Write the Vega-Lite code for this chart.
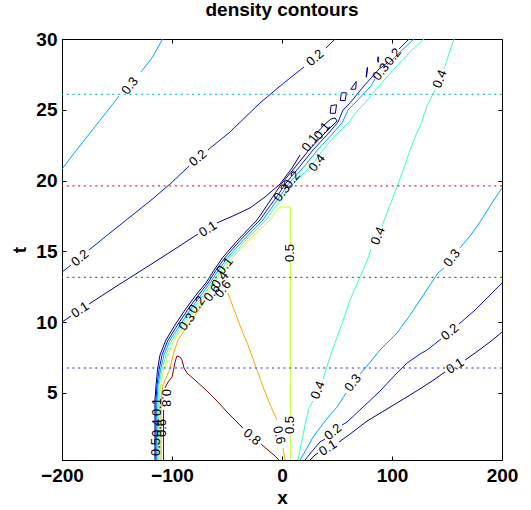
{
"$schema":"https://vega.github.io/schema/vega-lite/v6.json",
"width":440,"height":421,
"autosize":{"type":"none"},
"padding":{"left":62,"top":39,"right":29,"bottom":50},
"title":{"text":"density contours","fontSize":19,"fontWeight":"bold","font":"Liberation Sans","offset":10,"color":"#000000","anchor":"middle","frame":"group"},
"config":{
 "view":{"stroke":"#000000","strokeWidth":1},
 "axis":{"grid":false,"domainColor":"#000000","tickColor":"#000000","labelColor":"#000000","titleColor":"#000000","labelFont":"Liberation Sans","titleFont":"Liberation Sans","labelFontSize":19,"labelFontWeight":"bold","titleFontSize":19,"titleFontWeight":"bold","tickSize":-4,"labelFlush":false,"labelOverlap":false,"domainWidth":1,"tickWidth":1}
},
"resolve":{"axis":{"x":"independent","y":"independent"},"scale":{"color":"independent"}},
"datasets":{
"contours":[
{"seg":"L3a","level":0.3,"x":-200,"t":20.81},{"seg":"L3a","level":0.3,"x":-188.2,"t":22.01},{"seg":"L3a","level":0.3,"x":-174.5,"t":23.36},{"seg":"L3a","level":0.3,"x":-160.9,"t":24.7},{"seg":"L3a","level":0.3,"x":-148.2,"t":25.97},
{"seg":"L3b","level":0.3,"x":-128.2,"t":27.67},{"seg":"L3b","level":0.3,"x":-118.2,"t":28.66},{"seg":"L3b","level":0.3,"x":-108.5,"t":30},
{"seg":"L2a","level":0.2,"x":-200,"t":13.53},{"seg":"L2a","level":0.2,"x":-191.8,"t":14.03},
{"seg":"L2b","level":0.2,"x":-175.5,"t":15.09},{"seg":"L2b","level":0.2,"x":-156.4,"t":16.29},{"seg":"L2b","level":0.2,"x":-138.2,"t":17.42},{"seg":"L2b","level":0.2,"x":-120,"t":18.55},{"seg":"L2b","level":0.2,"x":-101.8,"t":19.75},{"seg":"L2b","level":0.2,"x":-84.5,"t":21.02},
{"seg":"L2c","level":0.2,"x":-67.3,"t":22.16},{"seg":"L2c","level":0.2,"x":-47.3,"t":23.43},{"seg":"L2c","level":0.2,"x":-20,"t":25.48},{"seg":"L2c","level":0.2,"x":2.7,"t":26.96},{"seg":"L2c","level":0.2,"x":20,"t":28.02},
{"seg":"L2d","level":0.2,"x":40,"t":29.36},{"seg":"L2d","level":0.2,"x":48.2,"t":30},
{"seg":"L1a","level":0.1,"x":-200,"t":10.0},{"seg":"L1a","level":0.1,"x":-191.8,"t":10.42},
{"seg":"L1b","level":0.1,"x":-175.5,"t":11.27},{"seg":"L1b","level":0.1,"x":-147.3,"t":12.69},{"seg":"L1b","level":0.1,"x":-120,"t":14.03},{"seg":"L1b","level":0.1,"x":-97.3,"t":15.16},{"seg":"L1b","level":0.1,"x":-76.4,"t":16.22},
{"seg":"L1c","level":0.1,"x":-59.1,"t":17.0},{"seg":"L1c","level":0.1,"x":-42.7,"t":17.56},{"seg":"L1c","level":0.1,"x":-29.1,"t":18.06},{"seg":"L1c","level":0.1,"x":-15.5,"t":18.83},{"seg":"L1c","level":0.1,"x":-1.8,"t":19.75},{"seg":"L1c","level":0.1,"x":9.1,"t":20.88},{"seg":"L1c","level":0.1,"x":16.4,"t":21.8},
{"seg":"B1","level":0.1,"x":30.9,"t":23.29},{"seg":"B1","level":0.1,"x":38.2,"t":23.92},{"seg":"B1","level":0.1,"x":44.5,"t":24.35},{"seg":"B1","level":0.1,"x":48.2,"t":24.42},{"seg":"B1","level":0.1,"x":50,"t":24.21},{"seg":"B1","level":0.1,"x":47.3,"t":23.99},{"seg":"B1","level":0.1,"x":37.3,"t":23.22},{"seg":"B1","level":0.1,"x":24.5,"t":22.16},{"seg":"B1","level":0.1,"x":13.6,"t":21.1},{"seg":"B1","level":0.1,"x":0,"t":19.82},{"seg":"B1","level":0.1,"x":-7.3,"t":18.98},{"seg":"B1","level":0.1,"x":-16.4,"t":17.92},{"seg":"B1","level":0.1,"x":-22.7,"t":17.21},{"seg":"B1","level":0.1,"x":-40,"t":15.8},{"seg":"B1","level":0.1,"x":-53.6,"t":14.59},{"seg":"B1","level":0.1,"x":-61.8,"t":13.67},{"seg":"B1","level":0.1,"x":-69.1,"t":12.76},{"seg":"B1","level":0.1,"x":-78.2,"t":11.91},{"seg":"B1","level":0.1,"x":-88.2,"t":10.85},{"seg":"B1","level":0.1,"x":-97.3,"t":9.79},{"seg":"B1","level":0.1,"x":-105.5,"t":8.73},{"seg":"B1","level":0.1,"x":-110.9,"t":7.67},{"seg":"B1","level":0.1,"x":-113.2,"t":6.61},{"seg":"B1","level":0.1,"x":-114.5,"t":5.55},{"seg":"B1","level":0.1,"x":-115.5,"t":4.49},{"seg":"B1","level":0.1,"x":-115.5,"t":3.07},{"seg":"B1","level":0.1,"x":-115.5,"t":0.25},
{"seg":"I1","level":0.1,"x":43.8,"t":24.75},{"seg":"I1","level":0.1,"x":44.6,"t":25.3},{"seg":"I1","level":0.1,"x":49.6,"t":25.35},{"seg":"I1","level":0.1,"x":48.5,"t":24.75},{"seg":"I1","level":0.1,"x":43.8,"t":24.75},
{"seg":"I2","level":0.1,"x":53,"t":25.65},{"seg":"I2","level":0.1,"x":54,"t":26.2},{"seg":"I2","level":0.1,"x":58.5,"t":26.2},{"seg":"I2","level":0.1,"x":57.5,"t":25.65},{"seg":"I2","level":0.1,"x":53,"t":25.65},
{"seg":"I3","level":0.1,"x":62.5,"t":26.45},{"seg":"I3","level":0.1,"x":67.5,"t":27.0},{"seg":"I3","level":0.1,"x":67,"t":26.45},{"seg":"I3","level":0.1,"x":62.5,"t":26.45},
{"seg":"I4","level":0.1,"x":76.5,"t":27.35},{"seg":"I4","level":0.1,"x":77.5,"t":28.0},{"seg":"I4","level":0.1,"x":77.8,"t":27.95},{"seg":"I4","level":0.1,"x":76.8,"t":27.3},{"seg":"I4","level":0.1,"x":76.5,"t":27.35},
{"seg":"I5","level":0.1,"x":86.8,"t":28.5},{"seg":"I5","level":0.1,"x":87.4,"t":28.75},{"seg":"I5","level":0.1,"x":88,"t":28.55},{"seg":"I5","level":0.1,"x":87.4,"t":28.35},{"seg":"I5","level":0.1,"x":86.8,"t":28.5},
{"seg":"B2a","level":0.2,"x":115.5,"t":30},{"seg":"B2a","level":0.2,"x":106.4,"t":29.29},
{"seg":"B2b","level":0.2,"x":95.5,"t":28.3},{"seg":"B2b","level":0.2,"x":88.2,"t":27.88},{"seg":"B2b","level":0.2,"x":74.5,"t":26.68},{"seg":"B2b","level":0.2,"x":61.8,"t":25.48},{"seg":"B2b","level":0.2,"x":55.5,"t":24.98},{"seg":"B2b","level":0.2,"x":50.9,"t":24.13},{"seg":"B2b","level":0.2,"x":40.9,"t":23.22},{"seg":"B2b","level":0.2,"x":28.2,"t":22.16},{"seg":"B2b","level":0.2,"x":17.3,"t":21.1},{"seg":"B2b","level":0.2,"x":3.6,"t":19.82},{"seg":"B2b","level":0.2,"x":-3.6,"t":18.98},{"seg":"B2b","level":0.2,"x":-13.6,"t":17.92},{"seg":"B2b","level":0.2,"x":-20,"t":17.21},{"seg":"B2b","level":0.2,"x":-37.7,"t":15.8},{"seg":"B2b","level":0.2,"x":-51.4,"t":14.59},{"seg":"B2b","level":0.2,"x":-60,"t":13.67},{"seg":"B2b","level":0.2,"x":-67.3,"t":12.76},{"seg":"B2b","level":0.2,"x":-75.9,"t":11.91},{"seg":"B2b","level":0.2,"x":-85.9,"t":10.85},{"seg":"B2b","level":0.2,"x":-95,"t":9.79},{"seg":"B2b","level":0.2,"x":-103.6,"t":8.73},{"seg":"B2b","level":0.2,"x":-109.1,"t":7.67},{"seg":"B2b","level":0.2,"x":-111.8,"t":6.61},{"seg":"B2b","level":0.2,"x":-113.6,"t":5.55},{"seg":"B2b","level":0.2,"x":-114.5,"t":4.49},{"seg":"B2b","level":0.2,"x":-114.5,"t":0.25},
{"seg":"B3a","level":0.3,"x":120,"t":30},{"seg":"B3a","level":0.3,"x":107.3,"t":29.08},{"seg":"B3a","level":0.3,"x":95.5,"t":28.16},
{"seg":"B3b","level":0.3,"x":84.5,"t":27.17},{"seg":"B3b","level":0.3,"x":80.9,"t":26.68},{"seg":"B3b","level":0.3,"x":66.4,"t":25.48},{"seg":"B3b","level":0.3,"x":60,"t":24.98},{"seg":"B3b","level":0.3,"x":55,"t":24.13},{"seg":"B3b","level":0.3,"x":45,"t":23.22},{"seg":"B3b","level":0.3,"x":32.3,"t":22.16},{"seg":"B3b","level":0.3,"x":21.4,"t":21.1},{"seg":"B3b","level":0.3,"x":6.4,"t":19.82},{"seg":"B3b","level":0.3,"x":-0.9,"t":18.98},{"seg":"B3b","level":0.3,"x":-10.9,"t":17.92},{"seg":"B3b","level":0.3,"x":-17.3,"t":17.21},{"seg":"B3b","level":0.3,"x":-35,"t":15.8},{"seg":"B3b","level":0.3,"x":-49.1,"t":14.59},{"seg":"B3b","level":0.3,"x":-57.7,"t":13.67},{"seg":"B3b","level":0.3,"x":-65.5,"t":12.76},{"seg":"B3b","level":0.3,"x":-73.6,"t":11.91},{"seg":"B3b","level":0.3,"x":-83.6,"t":10.85},{"seg":"B3b","level":0.3,"x":-92.7,"t":9.79},{"seg":"B3b","level":0.3,"x":-101.8,"t":8.73},{"seg":"B3b","level":0.3,"x":-107.3,"t":7.67},{"seg":"B3b","level":0.3,"x":-110.5,"t":6.61},{"seg":"B3b","level":0.3,"x":-112.7,"t":5.55},{"seg":"B3b","level":0.3,"x":-113.6,"t":4.49},{"seg":"B3b","level":0.3,"x":-113.6,"t":0.25},
{"seg":"B4","level":0.4,"x":129.1,"t":30},{"seg":"B4","level":0.4,"x":116.4,"t":29.08},{"seg":"B4","level":0.4,"x":101.8,"t":27.88},{"seg":"B4","level":0.4,"x":88.2,"t":26.68},{"seg":"B4","level":0.4,"x":75.5,"t":25.48},{"seg":"B4","level":0.4,"x":69.1,"t":24.98},{"seg":"B4","level":0.4,"x":60.9,"t":24.13},{"seg":"B4","level":0.4,"x":49.1,"t":23.22},{"seg":"B4","level":0.4,"x":37.3,"t":22.16},{"seg":"B4","level":0.4,"x":27.3,"t":21.1},{"seg":"B4","level":0.4,"x":10.9,"t":19.82},{"seg":"B4","level":0.4,"x":2.3,"t":18.98},{"seg":"B4","level":0.4,"x":-8.2,"t":17.92},{"seg":"B4","level":0.4,"x":-14.5,"t":17.21},{"seg":"B4","level":0.4,"x":-32.7,"t":15.8},{"seg":"B4","level":0.4,"x":-46.8,"t":14.59},{"seg":"B4","level":0.4,"x":-55.5,"t":13.67},{"seg":"B4","level":0.4,"x":-63.6,"t":12.76},{"seg":"B4","level":0.4,"x":-71.4,"t":11.91},{"seg":"B4","level":0.4,"x":-81.4,"t":10.85},{"seg":"B4","level":0.4,"x":-90.9,"t":9.79},{"seg":"B4","level":0.4,"x":-100,"t":8.73},{"seg":"B4","level":0.4,"x":-105.5,"t":7.67},{"seg":"B4","level":0.4,"x":-109.1,"t":6.61},{"seg":"B4","level":0.4,"x":-111.8,"t":5.55},{"seg":"B4","level":0.4,"x":-112.5,"t":4.49},{"seg":"B4","level":0.4,"x":-112.5,"t":0.25},
{"seg":"B5a","level":0.5,"x":-111.5,"t":0.25},{"seg":"B5a","level":0.5,"x":-111.5,"t":4.49},{"seg":"B5a","level":0.5,"x":-110.5,"t":5.55},{"seg":"B5a","level":0.5,"x":-107.7,"t":6.61},{"seg":"B5a","level":0.5,"x":-103.6,"t":7.67},{"seg":"B5a","level":0.5,"x":-98.2,"t":8.73},{"seg":"B5a","level":0.5,"x":-88.6,"t":9.79},{"seg":"B5a","level":0.5,"x":-79.1,"t":10.85},{"seg":"B5a","level":0.5,"x":-69.1,"t":11.91},{"seg":"B5a","level":0.5,"x":-61.4,"t":12.76},{"seg":"B5a","level":0.5,"x":-53.2,"t":13.67},{"seg":"B5a","level":0.5,"x":-44.5,"t":14.59},{"seg":"B5a","level":0.5,"x":-30,"t":15.8},{"seg":"B5a","level":0.5,"x":-10.9,"t":17.21},{"seg":"B5a","level":0.5,"x":-4.5,"t":17.92},{"seg":"B5a","level":0.5,"x":-1.8,"t":18.13},{"seg":"B5a","level":0.5,"x":7.7,"t":18.13},{"seg":"B5a","level":0.5,"x":7.7,"t":15.44},
{"seg":"B5b","level":0.5,"x":7.7,"t":14.24},{"seg":"B5b","level":0.5,"x":7.7,"t":3.43},
{"seg":"B5c","level":0.5,"x":7.7,"t":1.94},{"seg":"B5c","level":0.5,"x":7.7,"t":0.25},
{"seg":"B6a","level":0.6,"x":-110,"t":0.25},{"seg":"B6a","level":0.6,"x":-110,"t":4.49},{"seg":"B6a","level":0.6,"x":-108.2,"t":5.55},{"seg":"B6a","level":0.6,"x":-102.3,"t":6.61},{"seg":"B6a","level":0.6,"x":-99.1,"t":7.67},{"seg":"B6a","level":0.6,"x":-94.5,"t":8.73},{"seg":"B6a","level":0.6,"x":-85.5,"t":9.79},{"seg":"B6a","level":0.6,"x":-75.5,"t":10.85},{"seg":"B6a","level":0.6,"x":-70.9,"t":11.34},
{"seg":"B6b","level":0.6,"x":-49.1,"t":12.05},{"seg":"B6b","level":0.6,"x":-44.5,"t":11.06},{"seg":"B6b","level":0.6,"x":-40,"t":10.14},{"seg":"B6b","level":0.6,"x":-35.5,"t":9.22},{"seg":"B6b","level":0.6,"x":-30.9,"t":8.37},{"seg":"B6b","level":0.6,"x":-22.7,"t":6.61},{"seg":"B6b","level":0.6,"x":-18.2,"t":5.62},{"seg":"B6b","level":0.6,"x":-13.6,"t":4.7},{"seg":"B6b","level":0.6,"x":-9.1,"t":3.85},{"seg":"B6b","level":0.6,"x":-4.5,"t":3.07},
{"seg":"B6c","level":0.6,"x":0.9,"t":1.1},{"seg":"B6c","level":0.6,"x":2.7,"t":0.25},
{"seg":"B8a","level":0.8,"x":-107.7,"t":0.25},{"seg":"B8a","level":0.8,"x":-107.7,"t":3.78},
{"seg":"B8b","level":0.8,"x":-106.4,"t":5.34},{"seg":"B8b","level":0.8,"x":-103.6,"t":5.76},{"seg":"B8b","level":0.8,"x":-100,"t":6.11},{"seg":"B8b","level":0.8,"x":-98.2,"t":6.75},{"seg":"B8b","level":0.8,"x":-97.3,"t":7.17},{"seg":"B8b","level":0.8,"x":-95.5,"t":7.6},{"seg":"B8b","level":0.8,"x":-92.7,"t":7.53},{"seg":"B8b","level":0.8,"x":-90.9,"t":7.31},{"seg":"B8b","level":0.8,"x":-89.1,"t":6.75},{"seg":"B8b","level":0.8,"x":-86.4,"t":6.4},{"seg":"B8b","level":0.8,"x":-79.1,"t":5.9},{"seg":"B8b","level":0.8,"x":-70,"t":5.26},{"seg":"B8b","level":0.8,"x":-62.7,"t":4.7},{"seg":"B8b","level":0.8,"x":-56.4,"t":4.2},{"seg":"B8b","level":0.8,"x":-50,"t":3.64},{"seg":"B8b","level":0.8,"x":-42.7,"t":3.07},{"seg":"B8b","level":0.8,"x":-35.5,"t":2.51},
{"seg":"B8c","level":0.8,"x":-19.1,"t":1.38},{"seg":"B8c","level":0.8,"x":-12.7,"t":0.95},{"seg":"B8c","level":0.8,"x":-7.3,"t":0.6},{"seg":"B8c","level":0.8,"x":-2.7,"t":0.25},
{"seg":"R4a","level":0.4,"x":14.5,"t":0.25},{"seg":"R4a","level":0.4,"x":17.3,"t":1.31},{"seg":"R4a","level":0.4,"x":20.9,"t":2.72},{"seg":"R4a","level":0.4,"x":24.5,"t":3.92},{"seg":"R4a","level":0.4,"x":28.2,"t":4.42},
{"seg":"R4b","level":0.4,"x":37.3,"t":5.97},{"seg":"R4b","level":0.4,"x":43.6,"t":7.53},{"seg":"R4b","level":0.4,"x":50,"t":8.94},{"seg":"R4b","level":0.4,"x":56.4,"t":10.28},{"seg":"R4b","level":0.4,"x":61.8,"t":11.55},{"seg":"R4b","level":0.4,"x":68.2,"t":12.69},{"seg":"R4b","level":0.4,"x":73.6,"t":13.67},{"seg":"R4b","level":0.4,"x":78.2,"t":14.52},{"seg":"R4b","level":0.4,"x":80.9,"t":15.16},
{"seg":"R4c","level":0.4,"x":90.9,"t":16.78},{"seg":"R4c","level":0.4,"x":96.4,"t":17.92},{"seg":"R4c","level":0.4,"x":104.5,"t":19.54},{"seg":"R4c","level":0.4,"x":110.9,"t":20.88},{"seg":"R4c","level":0.4,"x":116.4,"t":22.16},{"seg":"R4c","level":0.4,"x":121.8,"t":23.22},{"seg":"R4c","level":0.4,"x":126.4,"t":23.99},{"seg":"R4c","level":0.4,"x":131.8,"t":25.27},{"seg":"R4c","level":0.4,"x":139.1,"t":26.4},
{"seg":"R4d","level":0.4,"x":147.3,"t":27.88},{"seg":"R4d","level":0.4,"x":151.8,"t":28.94},{"seg":"R4d","level":0.4,"x":156.4,"t":30},
{"seg":"R3a","level":0.3,"x":16.4,"t":0.25},{"seg":"R3a","level":0.3,"x":21.8,"t":0.95},{"seg":"R3a","level":0.3,"x":28.2,"t":1.87},{"seg":"R3a","level":0.3,"x":36.4,"t":2.72},{"seg":"R3a","level":0.3,"x":43.6,"t":3.43},{"seg":"R3a","level":0.3,"x":50,"t":3.99},{"seg":"R3a","level":0.3,"x":58.2,"t":4.98},
{"seg":"R3b","level":0.3,"x":70.9,"t":6.33},{"seg":"R3b","level":0.3,"x":77.3,"t":6.89},{"seg":"R3b","level":0.3,"x":89.1,"t":8.02},{"seg":"R3b","level":0.3,"x":104.5,"t":9.22},{"seg":"R3b","level":0.3,"x":116.4,"t":10.49},{"seg":"R3b","level":0.3,"x":125.5,"t":11.55},{"seg":"R3b","level":0.3,"x":134.5,"t":12.61},{"seg":"R3b","level":0.3,"x":141.8,"t":13.46},{"seg":"R3b","level":0.3,"x":147.3,"t":13.82},
{"seg":"R3c","level":0.3,"x":161.8,"t":15.23},{"seg":"R3c","level":0.3,"x":170.9,"t":16.08},{"seg":"R3c","level":0.3,"x":180,"t":17.07},{"seg":"R3c","level":0.3,"x":189.1,"t":18.2},{"seg":"R3c","level":0.3,"x":200,"t":19.47},
{"seg":"R2a","level":0.2,"x":20.9,"t":0.25},{"seg":"R2a","level":0.2,"x":28.2,"t":0.95},{"seg":"R2a","level":0.2,"x":34.5,"t":1.52},{"seg":"R2a","level":0.2,"x":39.1,"t":1.73},
{"seg":"R2b","level":0.2,"x":54.5,"t":2.72},{"seg":"R2b","level":0.2,"x":59.1,"t":2.93},{"seg":"R2b","level":0.2,"x":72.7,"t":3.92},{"seg":"R2b","level":0.2,"x":89.1,"t":5.12},{"seg":"R2b","level":0.2,"x":102.7,"t":6.25},{"seg":"R2b","level":0.2,"x":113.6,"t":7.1},{"seg":"R2b","level":0.2,"x":125.5,"t":7.74},{"seg":"R2b","level":0.2,"x":131.8,"t":8.02},{"seg":"R2b","level":0.2,"x":144.5,"t":8.8},
{"seg":"R2c","level":0.2,"x":160.9,"t":9.86},{"seg":"R2c","level":0.2,"x":175.5,"t":10.85},{"seg":"R2c","level":0.2,"x":186.4,"t":11.7},{"seg":"R2c","level":0.2,"x":200,"t":12.76},
{"seg":"R1a","level":0.1,"x":25.5,"t":0.25},{"seg":"R1a","level":0.1,"x":30,"t":0.6},{"seg":"R1a","level":0.1,"x":32.7,"t":0.74},
{"seg":"R1b","level":0.1,"x":51.8,"t":1.52},{"seg":"R1b","level":0.1,"x":61.8,"t":2.08},{"seg":"R1b","level":0.1,"x":77.3,"t":3.0},{"seg":"R1b","level":0.1,"x":90.9,"t":3.64},{"seg":"R1b","level":0.1,"x":104.5,"t":4.28},{"seg":"R1b","level":0.1,"x":116.4,"t":4.84},{"seg":"R1b","level":0.1,"x":128.2,"t":5.41},{"seg":"R1b","level":0.1,"x":139.1,"t":5.97},{"seg":"R1b","level":0.1,"x":148.2,"t":6.47},
{"seg":"R1c","level":0.1,"x":166.4,"t":7.31},{"seg":"R1c","level":0.1,"x":175.5,"t":7.81},{"seg":"R1c","level":0.1,"x":189.1,"t":8.59},{"seg":"R1c","level":0.1,"x":200,"t":9.29}
],
"snaps":[{"t":6.75,"snap":"s1"},{"t":13.16,"snap":"s2"},{"t":19.62,"snap":"s3"},{"t":26.09,"snap":"s4"}],
"lab33":[{"x":-183.6,"t":10.85,"label":"0.1"},{"x":-67.3,"t":16.57,"label":"0.1"},{"x":157.3,"t":6.89,"label":"0.1"},{"x":41.8,"t":1.1,"label":"0.1"}],
"lab40":[{"x":-183.6,"t":14.52,"label":"0.2"},{"x":-76.4,"t":21.59,"label":"0.2"},{"x":30,"t":28.66,"label":"0.2"},{"x":152.7,"t":9.29,"label":"0.2"},{"x":46.4,"t":2.23,"label":"0.2"}],
"lab52":[{"x":-138.2,"t":26.68,"label":"0.3"},{"x":-86.4,"t":10.0,"label":"0.3"},{"x":-77.3,"t":11.2,"label":"0.2"},{"x":-63.6,"t":12.05,"label":"0.6"},{"x":-56.4,"t":12.97,"label":"0.4"},{"x":-53.6,"t":12.33,"label":"0.6"},{"x":-51.8,"t":13.96,"label":"0.1"},{"x":0,"t":19.12,"label":"0.3"},{"x":9.1,"t":20.04,"label":"0.2"},{"x":31.8,"t":21.24,"label":"0.4"},{"x":25.5,"t":22.65,"label":"0.1"},{"x":36.4,"t":23.5,"label":"0.1"},{"x":90,"t":27.67,"label":"0.3"},{"x":100.9,"t":28.73,"label":"0.2"},{"x":64.5,"t":5.69,"label":"0.3"},{"x":154.5,"t":14.52,"label":"0.3"}],
"lab68":[{"x":32.7,"t":5.19,"label":"0.4"},{"x":87.3,"t":16.08,"label":"0.4"},{"x":143.6,"t":27.17,"label":"0.4"}],
"labm90":[{"x":7.7,"t":14.88,"label":"0.5"},{"x":7.7,"t":2.72,"label":"0.5"},{"x":-113.6,"t":3.99,"label":"0.1"},{"x":-113.6,"t":2.51,"label":"0.4"},{"x":-109.1,"t":2.51,"label":"0.6"},{"x":-114.5,"t":1.17,"label":"0.5"}],
"labp90":[{"x":-105.5,"t":4.63,"label":"0.8"}],
"labp77":[{"x":-2.7,"t":2.01,"label":"0.6"}],
"labp40":[{"x":-27.3,"t":1.87,"label":"0.8"}]
},
"layer":[
{"data":{"name":"contours"},
 "mark":{"type":"line","strokeWidth":1,"clip":true},
 "encoding":{
  "x":{"field":"x","type":"quantitative","scale":{"domain":[-200,200],"nice":false,"zero":false},"axis":{"values":[-200,-100,0,100,200],"title":"x","labelPadding":10,"titlePadding":3}},
  "y":{"field":"t","type":"quantitative","scale":{"domain":[0.25,30],"nice":false,"zero":false},"axis":{"values":[5,10,15,20,25,30],"title":"t","labelPadding":9,"titlePadding":6}},
  "color":{"field":"level","type":"ordinal","scale":{"domain":[0.1,0.2,0.3,0.4,0.5,0.6,0.8],"range":["#00008f","#0012ff","#00a4ff","#36ffc9","#c9ff36","#ffa400","#800000"]},"legend":null},
  "detail":{"field":"seg"},
  "order":{"value":null}
 }},
{"data":{"name":"snaps"},
 "mark":{"type":"rule","strokeWidth":1.2,"strokeDash":[2,3.7]},
 "encoding":{
  "y":{"field":"t","type":"quantitative","axis":null},
  "color":{"field":"snap","type":"nominal","scale":{"domain":["s1","s2","s3","s4"],"range":["#2020ff","#10a010","#ff2020","#20c0c0"]},"legend":null}
 }},
{"data":{"name":"lab33"},"mark":{"type":"text","font":"Liberation Sans","fontSize":13,"angle":-33,"color":"#000000"},
 "encoding":{"x":{"field":"x","type":"quantitative","axis":{"orient":"top","values":[-100,0,100],"labels":false,"title":null}},"y":{"field":"t","type":"quantitative","axis":{"orient":"right","values":[5,10,15,20,25],"labels":false,"title":null}},"text":{"field":"label"}}},
{"data":{"name":"lab40"},"mark":{"type":"text","font":"Liberation Sans","fontSize":13,"angle":-40,"color":"#000000"},
 "encoding":{"x":{"field":"x","type":"quantitative","axis":null},"y":{"field":"t","type":"quantitative","axis":null},"text":{"field":"label"}}},
{"data":{"name":"lab52"},"mark":{"type":"text","font":"Liberation Sans","fontSize":13,"angle":-52,"color":"#000000"},
 "encoding":{"x":{"field":"x","type":"quantitative","axis":null},"y":{"field":"t","type":"quantitative","axis":null},"text":{"field":"label"}}},
{"data":{"name":"lab68"},"mark":{"type":"text","font":"Liberation Sans","fontSize":13,"angle":-68,"color":"#000000"},
 "encoding":{"x":{"field":"x","type":"quantitative","axis":null},"y":{"field":"t","type":"quantitative","axis":null},"text":{"field":"label"}}},
{"data":{"name":"labm90"},"mark":{"type":"text","font":"Liberation Sans","fontSize":13,"angle":-90,"color":"#000000"},
 "encoding":{"x":{"field":"x","type":"quantitative","axis":null},"y":{"field":"t","type":"quantitative","axis":null},"text":{"field":"label"}}},
{"data":{"name":"labp90"},"mark":{"type":"text","font":"Liberation Sans","fontSize":13,"angle":90,"color":"#000000"},
 "encoding":{"x":{"field":"x","type":"quantitative","axis":null},"y":{"field":"t","type":"quantitative","axis":null},"text":{"field":"label"}}},
{"data":{"name":"labp77"},"mark":{"type":"text","font":"Liberation Sans","fontSize":13,"angle":77,"color":"#000000"},
 "encoding":{"x":{"field":"x","type":"quantitative","axis":null},"y":{"field":"t","type":"quantitative","axis":null},"text":{"field":"label"}}},
{"data":{"name":"labp40"},"mark":{"type":"text","font":"Liberation Sans","fontSize":13,"angle":40,"color":"#000000"},
 "encoding":{"x":{"field":"x","type":"quantitative","axis":null},"y":{"field":"t","type":"quantitative","axis":null},"text":{"field":"label"}}}
]
}
